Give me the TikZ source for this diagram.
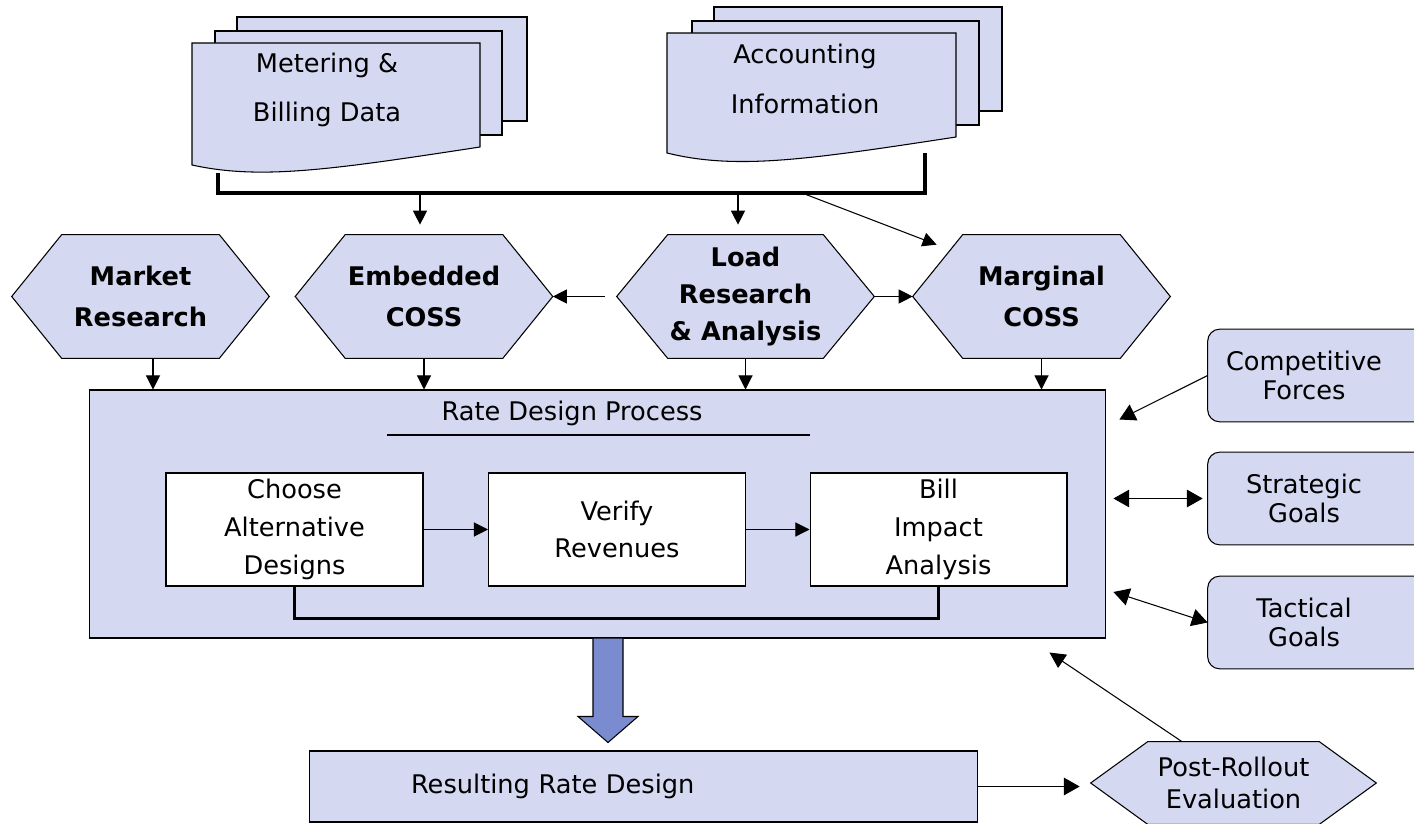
\documentclass[tikz,border=0pt]{standalone}
\usepackage{fontspec}
\setmainfont{DejaVu Sans}
\usetikzlibrary{arrows.meta,calc,backgrounds}
\definecolor{boxfill}{RGB}{212,216,240}
\definecolor{arrowblue}{RGB}{122,139,208}
\tikzset{
  docpage/.style={draw=black, fill=boxfill, line width=0.6pt},
  doctext/.style={align=center, inner sep=0pt, font=\fontsize{14.6}{28}\selectfont},
  hexfill/.style={draw=black, fill=boxfill, line width=0.6pt},
  hexlabel/.style={minimum width=5.14cm, minimum height=2.46cm, inner sep=0pt, align=center, font=\fontsize{14.6}{23.5}\selectfont\bfseries},
  postlabel/.style={minimum width=5.7cm, minimum height=1.64cm, inner sep=0pt, align=center, font=\fontsize{14.6}{18.7}\selectfont},
  procbox/.style={draw=black, fill=boxfill, line width=0.6pt, inner sep=0pt},
  stepbox/.style={draw=black, fill=white, line width=0.6pt, minimum width=5.14cm, minimum height=2.26cm, inner sep=0pt, align=center, font=\fontsize{14.6}{21.5}\selectfont},
  goallabel/.style={minimum width=3.84cm, minimum height=1.84cm, inner sep=0pt, align=center, font=\fontsize{14.6}{16.5}\selectfont},
  goalfill/.style={draw=black, fill=boxfill, rounded corners=0.24cm, line width=0.6pt},
  link/.style={line width=0.6pt, -{Triangle[length=8pt,width=8pt]}},
  biglink/.style={line width=0.6pt, {Triangle[length=9pt,width=10pt]}-{Triangle[length=9pt,width=10pt]}},
  bus/.style={line width=1.8pt},
  bigarrow/.style={draw=black, fill=arrowblue, line width=0.6pt},
}
\begin{document}
\begin{tikzpicture}[x=0.02cm, y=-0.02cm]
  \useasboundingbox (0,0) rectangle (1414,824);
  % data sources
  \filldraw[docpage] (237,17) rectangle (527,121);
  \filldraw[docpage] (215,31) rectangle (502,135);
  \filldraw[docpage] (192,165) -- (192,43) -- (480,43) -- (480,147) .. controls (330,170) and (260,180) .. (192,165) -- cycle;
  \node[doctext] (metering) at (327,90) {Metering \&\\Billing Data};
  \filldraw[docpage] (714,7) rectangle (1002,111);
  \filldraw[docpage] (692,21) rectangle (979,125);
  \filldraw[docpage] (667,153) -- (667,33) -- (956,33) -- (956,137) .. controls (806,160) and (736,170) .. (667,153) -- cycle;
  \node[doctext] (accounting) at (805,79) {Accounting\\Information};
  \coordinate (busL) at (218,193);
  \coordinate (busR) at (925,193);
  \coordinate (busE) at (420,193);
  \coordinate (busD) at (738,193);
  \coordinate (busM) at (802,193);
  \draw[bus] (218,173) -- (busL) -- (busR) -- (925,153);
  % studies
  \node[hexlabel] (market) at (140.5,296.5) {Market\\Research};
  \node[hexlabel] (embedded) at (424,296.5) {Embedded\\COSS};
  \node[hexlabel, font=\fontsize{14.6}{21.3}\selectfont\bfseries] (load) at (745.5,296.5) {Load\\Research\\\& Analysis};
  \node[hexlabel] (marginal) at (1041.5,296.5) {Marginal\\COSS};
  \node[postlabel] (post) at (1233.5,783) {Post-Rollout\\Evaluation};
  \node[goallabel] (compet) at (1304,375.5) {Competitive\\Forces};
  \node[goallabel] (strat) at (1304,498.5) {Strategic\\Goals};
  \node[goallabel] (tact) at (1304,622.5) {Tactical\\Goals};
  \begin{scope}[on background layer]
    \foreach \n/\d in {market/50, embedded/50, load/51, marginal/50, post/57}
      \filldraw[hexfill] (\n.west) -- ([xshift=\d*0.02cm]\n.north west) -- ([xshift=-\d*0.02cm]\n.north east) -- (\n.east) -- ([xshift=-\d*0.02cm]\n.south east) -- ([xshift=\d*0.02cm]\n.south west) -- cycle;
    \foreach \n in {compet, strat, tact}
      \filldraw[goalfill] (\n.north west) rectangle ([xshift=0.6cm]\n.south east);
  \end{scope}
  \draw[link, shorten >=0.2cm] (busE) -- (busE |- embedded.north);
  \draw[link, shorten >=0.2cm] (busD) -- (busD |- load.north);
  \draw[link] (busM) -- ([xshift=0.48cm,yshift=-0.2cm]marginal.north west);
  \draw[link] ([xshift=-0.24cm]load.west) -- (embedded.east);
  \draw[link] (load.east) -- (marginal.west);
  % process
  \node[procbox, minimum width=20.34cm, minimum height=4.96cm] (process) at (597.5,514) {};
  \node[font=\fontsize{14.6}{18}\selectfont] (title) at (572,413) {Rate Design Process};
  \draw[line width=1.4pt] (387,435) -- (810,435);
  \node[stepbox] (choose) at (294.5,529.5) {Choose\\Alternative\\Designs};
  \node[stepbox] (verify) at (617,529.5) {Verify\\Revenues};
  \node[stepbox] (bill) at (938.5,529.5) {Bill\\Impact\\Analysis};
  \draw[link] (choose) -- (verify);
  \draw[link] (verify) -- (bill);
  \draw[line width=1.4pt] (choose.south) -- ++(0,32) -| (bill.south);
  \coordinate (mkt) at ([xshift=0.25cm]market.south);
  \draw[link] (mkt) -- (mkt |- process.north);
  \draw[link] (embedded.south) -- (embedded.south |- process.north);
  \draw[link] (load.south) -- (load.south |- process.north);
  \draw[link] (marginal.south) -- (marginal.south |- process.north);
  % goals
  \draw[link, -{Triangle[length=9pt,width=10pt]}] (compet.west) -- ([xshift=0.26cm,yshift=-0.6cm]process.north east);
  \draw[biglink] ($(process.east |- strat.west)+(7,0)$) -- ([xshift=-0.1cm]strat.west);
  \draw[biglink] ($(process.east)+(7,78)$) -- (tact.west);
  % result
  \node[procbox, minimum height=1.42cm, text width=9.3cm, inner xsep=2.04cm, align=left, font=\fontsize{14.6}{18}\selectfont] (result) at (643.5,786.5) {Resulting Rate Design};
  \coordinate (bigtail) at ($(process.south)+(10.5,0)$);
  \filldraw[bigarrow] (bigtail) ++(-15,0) -- ++(0,78) -- ++(-15,0) -- ++(30,26) -- ++(30,-26) -- ++(-15,0) -- ++(0,-78);
  \draw[link, -{Triangle[length=9pt,width=10pt]}] (result.east) -- ($(result.east -| post.west)+(-11,0)$);
  \draw[link, -{Triangle[length=9pt,width=9pt]}] ($(post.north)+(-51.5,0)$) -- ($(process.south east)+(-57,14)$);
\end{tikzpicture}
\end{document}
